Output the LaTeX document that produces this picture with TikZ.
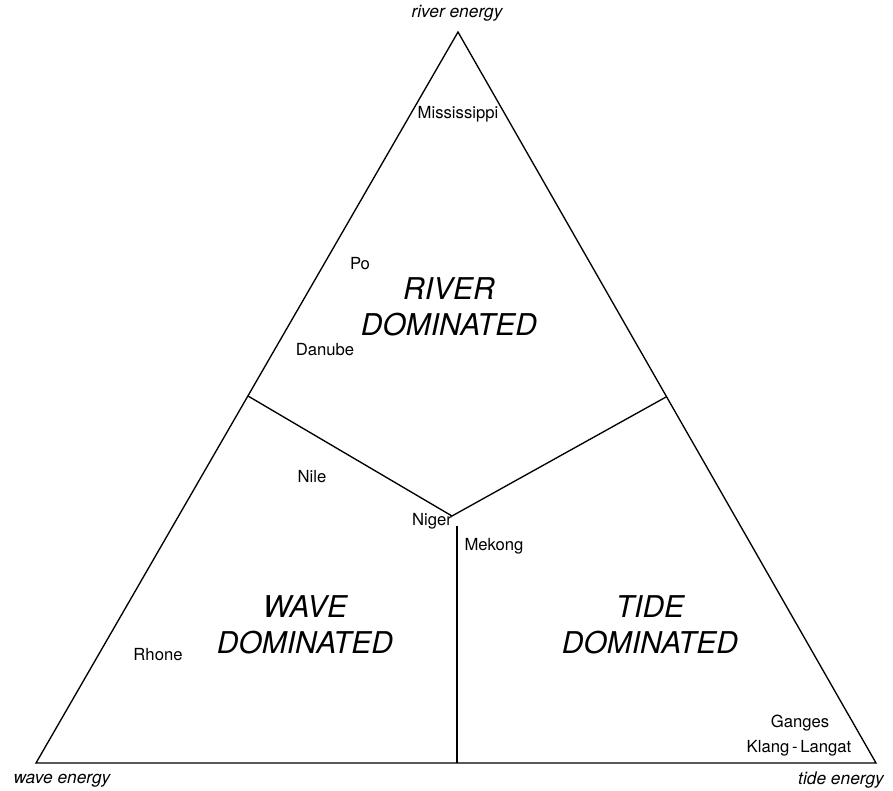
\documentclass[tikz,border=0pt]{standalone}
\usepackage{fontspec}
\setmainfont{TeX Gyre Heros}
\usepackage{tikz}

\begin{document}
\begin{tikzpicture}[x=0.75pt,y=-0.75pt, line width=1pt,
            delta/.style={font=\fontsize{12.5}{14}\selectfont},
            corner/.style={font=\fontsize{13}{15}\selectfont\itshape},
            field/.style={font=\fontsize{22.5}{27}\selectfont\itshape,align=center}]
            \useasboundingbox (0,0) rectangle (893,790);
            \coordinate (R) at (458,32);
            \coordinate (W) at (36,763);
            \coordinate (T) at (876,763);
            \coordinate (jl) at (248,396);
            \coordinate (jr) at (666,397);
            \coordinate (c) at (452,516);
            \coordinate (ct) at (457,526);
            \coordinate (cb) at (457,763);
            \draw (R) -- (W) -- (T) -- cycle;
            \draw (jl) -- (c) -- (jr);
            \draw[line width=0.8pt] (ct) -- (cb);
            \node[corner] (rlab) at (457,13) {river energy};
            \node[corner] (wlab) at (62,781) {wave energy};
            \node[corner] (tlab) at (841,780) {tide energy};
            \node[field] (river) at (449,307) {RIVER\\DOMINATED};
            \node[field] (wave) at (305,625) {WAVE\\DOMINATED};
            \node[field] (tide) at (650,625) {TIDE\\DOMINATED};
            \node[delta] (miss) at (458,114) {Mississippi};
            \node[delta] (po) at (360,264) {Po};
            \node[delta] (danube) at (325,350) {Danube};
            \node[delta] (nile) at (312,477) {Nile};
            \node[delta] (niger) at (432,521) {Niger};
            \node[delta] (mekong) at (494,546) {Mekong};
            \node[delta] (rhone) at (158,655) {Rhone};
            \node[delta] (ganges) at (800,723) {Ganges};
            \node[delta] (klang) at (799,748) {Klang\,-\,Langat};
          \end{tikzpicture}
\end{document}
